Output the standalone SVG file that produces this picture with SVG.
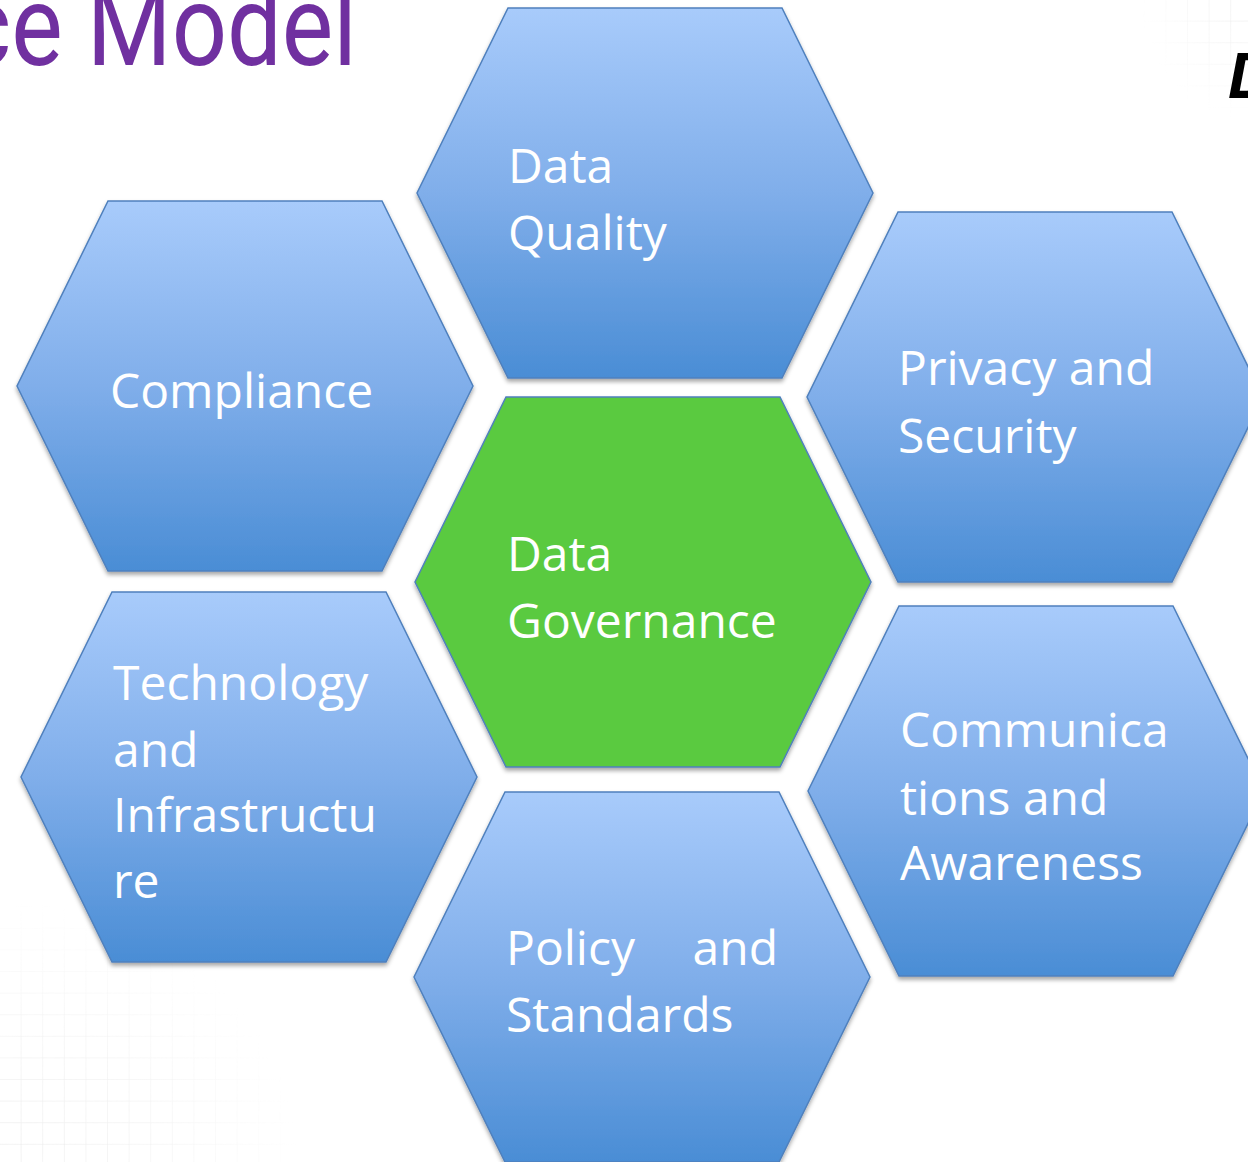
<svg xmlns="http://www.w3.org/2000/svg" xmlns:xlink="http://www.w3.org/1999/xlink" width="1248" height="1162" viewBox="0 0 1248 1162">
  <defs>
    <!-- shared hexagon outline, 456 x 370 -->
    <polygon id="hex" points="91,0 365,0 456,185 365,370 91,370 0,185"/>
    <linearGradient id="blueFill" x1="0" y1="0" x2="0" y2="1">
      <stop offset="0" stop-color="#a8cbfb"/>
      <stop offset="0.5" stop-color="#80aeea"/>
      <stop offset="1" stop-color="#4a8dd5"/>
    </linearGradient>
    <filter id="shadow" x="-5%" y="-5%" width="110%" height="115%">
      <feDropShadow dx="0" dy="3" stdDeviation="2" flood-color="#000" flood-opacity="0.35"/>
    </filter>
    <!-- faint background grid -->
    <pattern id="grid" width="21.6" height="21.6" patternUnits="userSpaceOnUse">
      <path d="M21.6 0 V21.6 M0 21.6 H21.6" fill="none" stroke="#e6e6e6" stroke-width="1"/>
    </pattern>
    <radialGradient id="fadeBL" cx="0" cy="1" r="1">
      <stop offset="0" stop-color="#fff" stop-opacity="1"/>
      <stop offset="0.55" stop-color="#fff" stop-opacity="0.6"/>
      <stop offset="1" stop-color="#fff" stop-opacity="0"/>
    </radialGradient>
    <radialGradient id="fadeTR" cx="1" cy="0" r="1">
      <stop offset="0" stop-color="#fff" stop-opacity="1"/>
      <stop offset="1" stop-color="#fff" stop-opacity="0"/>
    </radialGradient>
    <mask id="maskBL"><rect x="0" y="900" width="300" height="262" fill="url(#fadeBL)"/></mask>
    <mask id="maskTR"><rect x="1140" y="0" width="108" height="120" fill="url(#fadeTR)"/></mask>
    <style>
      .blue { fill: url(#blueFill); stroke: #4f80bd; stroke-width: 1.5; filter: url(#shadow); }
      .green { fill: #5aca3f; stroke: #4f80bd; stroke-width: 1.5; filter: url(#shadow); }
      .lbl { fill: #ffffff; font-family: "Open Sans", "Noto Sans", sans-serif; font-size: 48px; }
      .title { fill: #7030a0; font-family: Roboto, "Liberation Sans", sans-serif; font-size: 113px; }
      .heading { fill: #000; font-family: "Liberation Sans", Arial, sans-serif; font-weight: bold; font-style: italic; font-size: 64px; }
    </style>
  </defs>

  <rect width="1248" height="1162" fill="#ffffff"/>

  <!-- background grid patches -->
  <rect x="0" y="900" width="300" height="262" fill="url(#grid)" mask="url(#maskBL)"/>
  <rect x="1140" y="0" width="108" height="120" fill="url(#grid)" mask="url(#maskTR)"/>

  <!-- page headings, clipped by the page edge -->
  <text class="title" x="357" y="65" text-anchor="end" transform="translate(357 0) scale(0.86 1) translate(-357 0)">ce Model</text>
  <text class="heading" x="1228" y="98">D</text>

  <g id="connectors"/>

  <g id="node-data-quality">
    <use href="#hex" x="417" y="8" class="blue"/>
    <text class="lbl" x="508" y="183">Data</text>
    <text class="lbl" x="508" y="250">Quality</text>
  </g>

  <g id="node-compliance">
    <use href="#hex" x="17" y="201" class="blue"/>
    <text class="lbl" x="110" y="408">Compliance</text>
  </g>

  <g id="node-privacy-security">
    <use href="#hex" x="807" y="212" class="blue"/>
    <text class="lbl" x="898" y="385">Privacy and</text>
    <text class="lbl" x="898" y="453">Security</text>
  </g>

  <g id="node-data-governance">
    <use href="#hex" x="415" y="397" class="green"/>
    <text class="lbl" x="507" y="571">Data</text>
    <text class="lbl" x="507" y="638">Governance</text>
  </g>

  <g id="node-technology">
    <use href="#hex" x="21" y="592" class="blue"/>
    <text class="lbl" x="113" y="700">Technology</text>
    <text class="lbl" x="113" y="767">and</text>
    <text class="lbl" x="113" y="832">Infrastructu</text>
    <text class="lbl" x="113" y="898">re</text>
  </g>

  <g id="node-communications">
    <use href="#hex" x="808" y="606" class="blue"/>
    <text class="lbl" x="900" y="747">Communica</text>
    <text class="lbl" x="900" y="815">tions and</text>
    <text class="lbl" x="900" y="880">Awareness</text>
  </g>

  <g id="node-policy">
    <use href="#hex" x="414" y="792" class="blue"/>
    <text class="lbl" x="506" y="965">Policy</text>
    <text class="lbl" x="778" y="965" text-anchor="end">and</text>
    <text class="lbl" x="506" y="1032">Standards</text>
  </g>
</svg>
